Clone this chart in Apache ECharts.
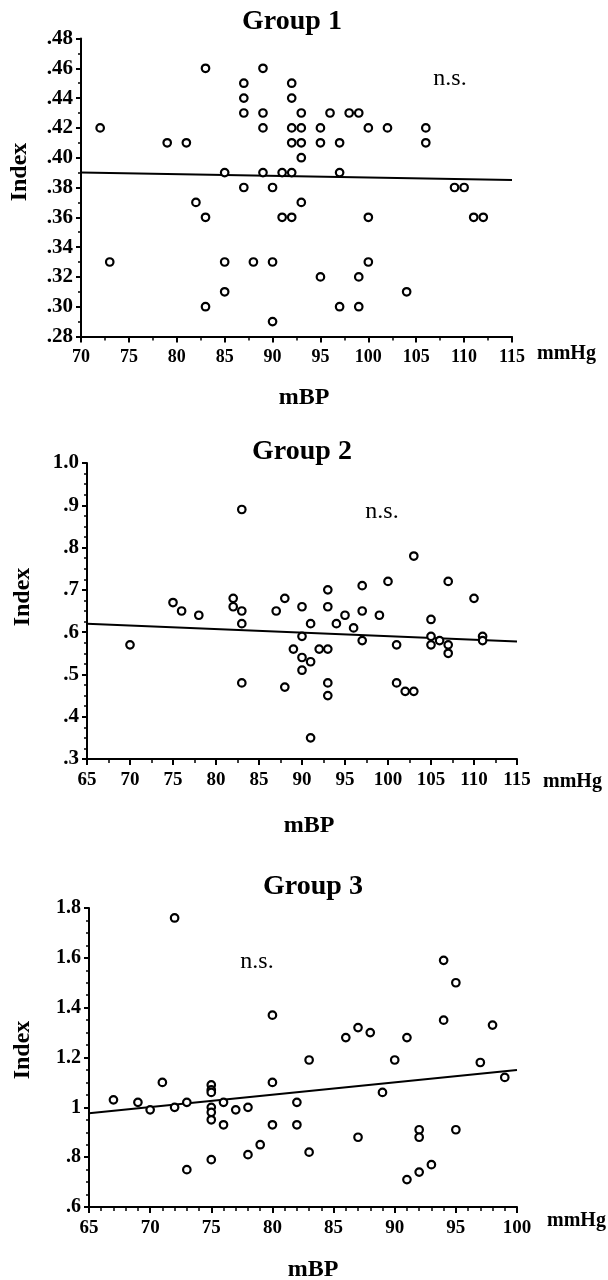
<!DOCTYPE html>
<html>
<head>
<meta charset="utf-8">
<script src="https://cdn.jsdelivr.net/npm/echarts@6/dist/echarts.min.js"></script>
<style>
  html, body { margin: 0; padding: 0; background: #fff; }
  #chart { width: 608px; height: 1280px; }
</style>
</head>
<body>
<div id="chart"></div>
<script>
// Group 1
var g1X = [83, 89, 87, 92, 87, 92, 87, 89, 93, 96, 98, 99,
  72, 89, 92, 93, 95, 100, 102, 106, 79, 81, 92, 93, 95, 97, 106, 93,
  85, 89, 91, 92, 97, 87, 90, 109, 110, 82, 93,
  83, 91, 92, 100, 111, 112, 73, 85, 88, 90, 100, 95, 99, 85, 104, 83, 97, 99, 90];
var g1Y = [.46, .46, .45, .45, .44, .44, .43, .43, .43, .43, .43, .43,
  .42, .42, .42, .42, .42, .42, .42, .42, .41, .41, .41, .41, .41, .41, .41, .40,
  .39, .39, .39, .39, .39, .38, .38, .38, .38, .37, .37,
  .36, .36, .36, .36, .36, .36, .33, .33, .33, .33, .33, .32, .32, .31, .31, .30, .30, .30, .29];
var g1FitX = [70, 115];
var g1FitY = [0.390, 0.385];
var g1YTicks = ['.28', '.30', '.32', '.34', '.36', '.38', '.40', '.42', '.44', '.46', '.48'];

// Group 2
var g2X = [70, 75, 76, 78, 82, 82, 83, 83, 83, 83, 87, 88, 88, 89, 90, 90, 90, 90,
  91, 91, 91, 92, 93, 93, 93, 93, 93, 94, 95, 96, 97, 97, 97, 99, 100,
  101, 101, 102, 103, 103, 105, 105, 105, 106, 107, 107, 107, 110, 111, 111];
var g2Y = [.57, .67, .65, .64, .68, .66, .65, .62, .89, .48, .65, .68, .47, .56, .66, .59, .54, .51,
  .62, .53, .35, .56, .70, .66, .56, .48, .45, .62, .64, .61, .71, .65, .58, .64, .72,
  .57, .48, .46, .46, .78, .63, .59, .57, .58, .72, .57, .55, .68, .59, .58];
var g2FitX = [65, 115];
var g2FitY = [0.620, 0.578];
var g2YTicks = ['.3', '.4', '.5', '.6', '.7', '.8', '.9', '1.0'];

// Group 3
var g3X = [67, 69, 70, 71, 72, 72, 73, 73, 75, 75, 75, 75, 75, 75, 75, 76, 76, 77, 78, 78,
  79, 80, 80, 80, 82, 82, 83, 83, 86, 87, 87, 88, 89, 90, 91, 91, 92, 92, 92, 93,
  94, 94, 95, 95, 97, 98, 99];
var g3Y = [1.03, 1.02, .99, 1.10, 1.76, 1.00, 1.02, .75, 1.09, 1.07, 1.06, 1.00, .98, .95, .79, 1.02, .93, .99, 1.00, .81,
  .85, 1.37, 1.10, .93, 1.02, .93, 1.19, .82, 1.28, 1.32, .88, 1.30, 1.06, 1.19, 1.28, .71, .91, .88, .74, .77,
  1.59, 1.35, 1.50, .91, 1.18, 1.33, 1.12];
var g3FitX = [65, 100];
var g3FitY = [0.976, 1.15];
var g3YTicks = ['.6', '.8', '1', '1.2', '1.4', '1.6', '1.8'];

var serif = '"Liberation Serif", "DejaVu Serif", serif';

function pairs(xs, ys) {
  var out = [];
  for (var i = 0; i < xs.length; i++) {
    out.push([xs[i], ys[i]]);
  }
  return out;
}

function xAxisOf(idx, min, max, minorSplit, fontSize) {
  return {
    type: 'value', gridIndex: idx, min: min, max: max, interval: 5,
    axisLine: { show: true, onZero: false, lineStyle: { color: '#000', width: 2 } },
    axisTick: { show: true, length: 6, lineStyle: { color: '#000', width: 2 } },
    minorTick: { show: true, splitNumber: minorSplit, length: 4, lineStyle: { color: '#000', width: 1.5 } },
    splitLine: { show: false },
    axisLabel: { color: '#000', fontFamily: serif, fontWeight: 'bold', fontSize: fontSize, margin: 12 }
  };
}

function yAxisOf(idx, min, max, interval, minorSplit, labels, fontSize) {
  return {
    type: 'value', gridIndex: idx, min: min, max: max, interval: interval,
    axisLine: { show: true, lineStyle: { color: '#000', width: 2 } },
    axisTick: { show: true, length: 5, lineStyle: { color: '#000', width: 2 } },
    minorTick: { show: true, splitNumber: minorSplit, length: 3, lineStyle: { color: '#000', width: 1.5 } },
    splitLine: { show: false },
    axisLabel: {
      color: '#000', fontFamily: serif, fontWeight: 'bold', fontSize: fontSize, margin: 8,
      formatter: function (v) { return labels[Math.round((v - min) / interval)]; }
    }
  };
}

function scatterOf(idx, xs, ys) {
  return {
    type: 'scatter', xAxisIndex: idx, yAxisIndex: idx, z: 3,
    symbol: 'circle', symbolSize: 7.5,
    itemStyle: { color: '#fff', borderColor: '#000', borderWidth: 2.2, opacity: 1 },
    data: pairs(xs, ys)
  };
}

function fitOf(idx, xs, ys) {
  return {
    type: 'line', xAxisIndex: idx, yAxisIndex: idx, z: 2,
    symbol: 'none', silent: true,
    lineStyle: { color: '#000', width: 2 },
    data: pairs(xs, ys)
  };
}

function label(text, x, y, font, rot) {
  return {
    type: 'text', x: x, y: y, rotation: rot || 0,
    style: { text: text, font: font, fill: '#000', textAlign: 'center', textVerticalAlign: 'middle' }
  };
}

function unit(x, y) {
  return {
    type: 'text', x: x, y: y,
    style: { text: 'mmHg', font: 'bold 20px ' + serif, fill: '#000', textAlign: 'left', textVerticalAlign: 'middle' }
  };
}

var titleFont = 'bold 28px ' + serif;
var nameFont = 'bold 24px ' + serif;
var nsFont = '24px ' + serif;

var myChart = echarts.init(document.getElementById('chart'));

var option = {
  animation: false,
  backgroundColor: '#fff',
  grid: [
    { left: 81, top: 38.5, width: 431, height: 298 },
    { left: 87, top: 463, width: 430, height: 296 },
    { left: 89, top: 908, width: 428, height: 299 }
  ],
  xAxis: [
    xAxisOf(0, 70, 115, 2, 18),
    xAxisOf(1, 65, 115, 2, 19),
    xAxisOf(2, 65, 100, 5, 19)
  ],
  yAxis: [
    yAxisOf(0, 0.28, 0.48, 0.02, 2, g1YTicks, 21),
    yAxisOf(1, 0.3, 1.0, 0.1, 4, g2YTicks, 21),
    yAxisOf(2, 0.6, 1.8, 0.2, 4, g3YTicks, 20)
  ],
  series: [
    fitOf(0, g1FitX, g1FitY),
    scatterOf(0, g1X, g1Y),
    fitOf(1, g2FitX, g2FitY),
    scatterOf(1, g2X, g2Y),
    fitOf(2, g3FitX, g3FitY),
    scatterOf(2, g3X, g3Y)
  ],
  graphic: [
    label('Group 1', 292, 22, titleFont),
    label('n.s.', 450, 79, nsFont),
    label('Index', 20, 172, nameFont, Math.PI / 2),
    label('mBP', 304, 398, nameFont),
    unit(537, 354),

    label('Group 2', 302, 452, titleFont),
    label('n.s.', 382, 512, nsFont),
    label('Index', 23, 597, nameFont, Math.PI / 2),
    label('mBP', 309, 826, nameFont),
    unit(543, 782),

    label('Group 3', 313, 887, titleFont),
    label('n.s.', 257, 962, nsFont),
    label('Index', 23, 1050, nameFont, Math.PI / 2),
    label('mBP', 313, 1270, nameFont),
    unit(547, 1221)
  ]
};

myChart.setOption(option);
</script>
</body>
</html>
